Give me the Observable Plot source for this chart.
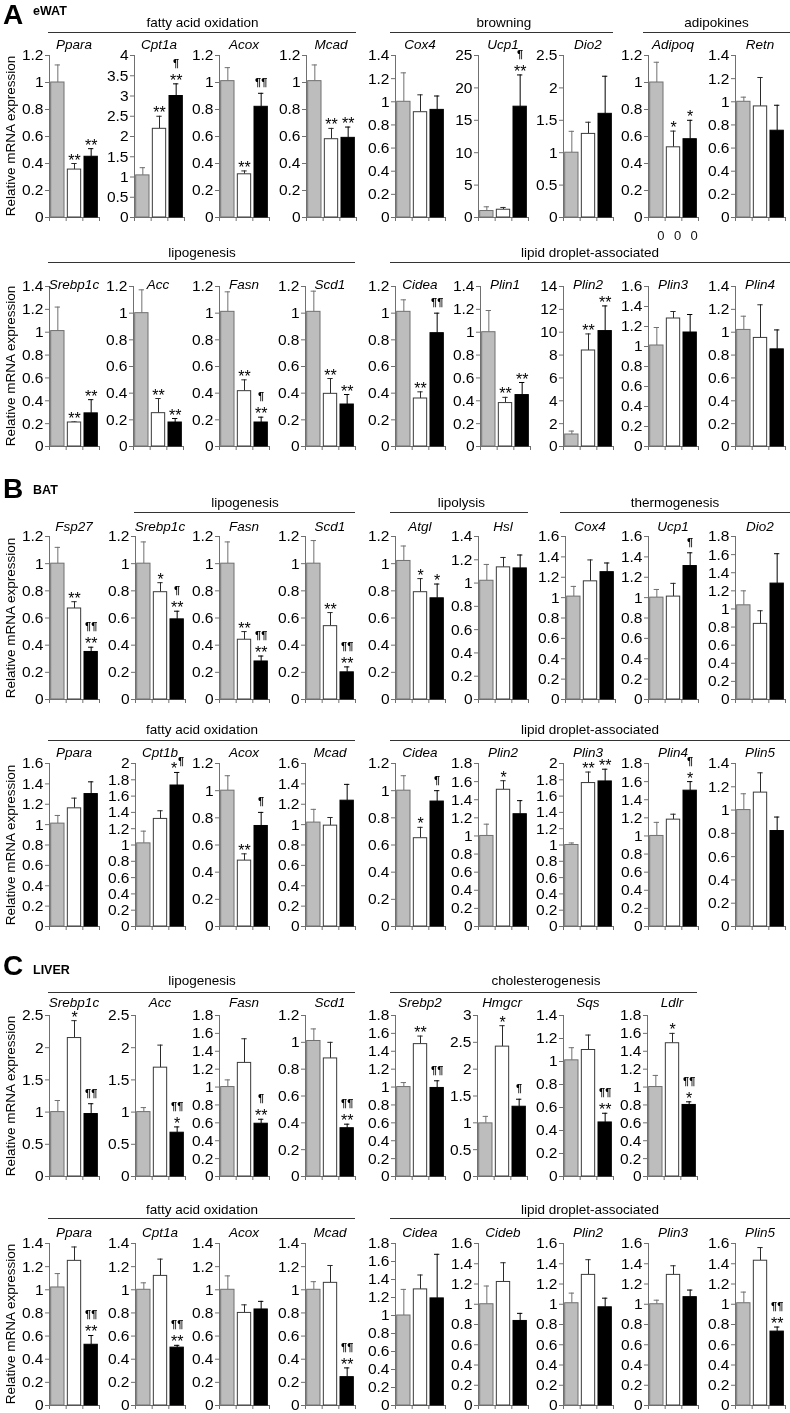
<!DOCTYPE html>
<html><head><meta charset="utf-8">
<script src="https://cdn.jsdelivr.net/npm/d3@7"></script>
<script src="https://cdn.jsdelivr.net/npm/@observablehq/plot@0.6"></script>
<style>
body{margin:0;background:#fff;}
#fig{position:relative;width:790px;height:1413px;overflow:hidden;background:#fff;font-family:"Liberation Sans",Arial,sans-serif;color:#000;}
.lbl{position:absolute;white-space:nowrap;text-align:center;}
.hline{position:absolute;height:0;border-top:1px solid #333;}
#fig svg{font-family:"Liberation Sans",Arial,sans-serif !important;will-change:transform;}
</style></head><body><div id="fig"></div>
<script>
// ---------------- DATA ----------------
// groups: gray (control), white, black ; values = mean, sem = error above mean
const A1_genes = ["Ppara","Cpt1a","Acox","Mcad","Cox4","Ucp1","Dio2","Adipoq","Retn"];
const A1_max  = [1.2,4,1.2,1.2,1.4,25,2.5,1.2,1.4];
const A1_step = [0.2,0.5,0.2,0.2,0.2,5,0.5,0.2,0.2];
const A1_mean = [[1.00,0.355,0.45],[1.04,2.19,3.00],[1.01,0.32,0.82],[1.01,0.58,0.59],[1.00,0.91,0.93],[1.0,1.2,17.1],[1.00,1.29,1.60],[1.00,0.52,0.58],[1.00,0.96,0.75]];
const A1_sem  = [[0.13,0.045,0.06],[0.19,0.31,0.30],[0.10,0.025,0.10],[0.12,0.08,0.08],[0.25,0.15,0.12],[0.65,0.35,4.9],[0.33,0.18,0.58],[0.15,0.12,0.14],[0.04,0.25,0.22]];
const A1_star = [["","**","**"],["","**","**"],["","**",""],["","**","**"],["","",""],["","","**"],["","",""],["","*","*"],["","",""]];
const A1_para = [["","",""],["","","¶"],["","","¶¶"],["","",""],["","",""],["","","¶"],["","",""],["","",""],["","",""]];
const A1_below = [null,null,null,null,null,null,null,["0","0","0"],null];
const A1_groups = [["fatty acid oxidation",0,3],["browning",4,6],["adipokines",7,8]];

const A2_genes = ["Srebp1c","Acc","Fasn","Scd1","Cidea","Plin1","Plin2","Plin3","Plin4"];
const A2_max  = [1.4,1.2,1.2,1.2,1.2,1.4,14,1.6,1.4];
const A2_step = [0.2,0.2,0.2,0.2,0.2,0.2,2,0.2,0.2];
const A2_mean = [[1.01,0.21,0.29],[1.0,0.25,0.18],[1.01,0.415,0.18],[1.01,0.395,0.315],[1.01,0.36,0.85],[1.0,0.38,0.45],[1.05,8.4,10.1],[1.01,1.28,1.14],[1.02,0.95,0.85]];
const A2_sem  = [[0.21,0.005,0.12],[0.175,0.11,0.03],[0.15,0.085,0.04],[0.155,0.115,0.075],[0.09,0.05,0.15],[0.19,0.05,0.11],[0.3,1.45,2.2],[0.18,0.07,0.18],[0.12,0.29,0.17]];
const A2_star = [["","**","**"],["","**","**"],["","**","**"],["","**","**"],["","**",""],["","**","**"],["","**","**"],["","",""],["","",""]];
const A2_para = [["","",""],["","",""],["","","¶"],["","",""],["","","¶¶"],["","",""],["","",""],["","",""],["","",""]];
const A2_groups = [["lipogenesis",0,3],["lipid droplet-associated",4,8]];

const B1_genes = ["Fsp27","Srebp1c","Fasn","Scd1","Atgl","Hsl","Cox4","Ucp1","Dio2"];
const B1_max  = [1.2,1.2,1.2,1.2,1.2,1.4,1.6,1.6,1.8];
const B1_step = [0.2,0.2,0.2,0.2,0.2,0.2,0.2,0.2,0.2];
const B1_mean = [[1.0,0.67,0.35],[1.0,0.79,0.59],[1.0,0.44,0.28],[1.0,0.54,0.20],[1.02,0.79,0.745],[1.02,1.135,1.126],[1.01,1.16,1.25],[1.0,1.01,1.31],[1.04,0.835,1.28]];
const B1_sem  = [[0.12,0.05,0.035],[0.16,0.07,0.06],[0.16,0.06,0.04],[0.17,0.10,0.04],[0.11,0.10,0.105],[0.14,0.085,0.115],[0.10,0.21,0.09],[0.08,0.13,0.13],[0.16,0.145,0.33]];
const B1_star = [["","**","**"],["","*","**"],["","**","**"],["","**","**"],["","*","*"],["","",""],["","",""],["","",""],["","",""]];
const B1_para = [["","","¶¶"],["","","¶"],["","","¶¶"],["","","¶¶"],["","",""],["","",""],["","",""],["","","¶"],["","",""]];
const B1_groups = [["lipogenesis",1,3],["lipolysis",4,5],["thermogenesis",6,8]];

const B2_genes = ["Ppara","Cpt1b","Acox","Mcad","Cidea","Plin2","Plin3","Plin4","Plin5"];
const B2_max  = [1.6,2,1.2,1.6,1.2,1.8,2,1.8,1.4];
const B2_step = [0.2,0.2,0.2,0.2,0.2,0.2,0.2,0.2,0.2];
const B2_mean = [[1.01,1.16,1.30],[1.02,1.32,1.73],[1.0,0.485,0.74],[1.02,0.99,1.235],[1.0,0.65,0.92],[1.0,1.51,1.24],[1.0,1.76,1.78],[1.0,1.18,1.50],[1.0,1.15,0.82]];
const B2_sem  = [[0.08,0.10,0.12],[0.15,0.10,0.16],[0.11,0.05,0.10],[0.13,0.08,0.16],[0.11,0.08,0.08],[0.13,0.10,0.15],[0.025,0.135,0.15],[0.15,0.06,0.10],[0.14,0.17,0.12]];
const B2_star = [["","",""],["","","*¶"],["","**",""],["","",""],["","*",""],["","*",""],["","**","**"],["","","*"],["","",""]];
const B2_para = [["","",""],["","",""],["","","¶"],["","",""],["","","¶"],["","",""],["","",""],["","","¶"],["","",""]];
const B2_groups = [["fatty acid oxidation",0,3],["lipid droplet-associated",4,8]];

const C1_genes = ["Srebp1c","Acc","Fasn","Scd1","Srebp2","Hmgcr","Sqs","Ldlr"];
const C1_max  = [2.5,2.5,1.8,1.2,1.8,3,1.4,1.8];
const C1_step = [0.5,0.5,0.2,0.2,0.2,0.5,0.2,0.2];
const C1_mean = [[1.0,2.15,0.97],[1.0,1.69,0.68],[1.0,1.27,0.59],[1.01,0.88,0.36],[1.0,1.48,0.99],[0.99,2.42,1.30],[1.01,1.10,0.47],[1.0,1.49,0.80]];
const C1_sem  = [[0.18,0.27,0.16],[0.07,0.35,0.09],[0.08,0.27,0.05],[0.09,0.12,0.03],[0.05,0.09,0.08],[0.13,0.39,0.14],[0.11,0.13,0.08],[0.13,0.11,0.035]];
const C1_star = [["","*",""],["","","*"],["","","**"],["","","**"],["","**",""],["","*",""],["","","**"],["","*","*"]];
const C1_para = [["","","¶¶"],["","","¶¶"],["","","¶"],["","","¶¶"],["","","¶¶"],["","","¶"],["","","¶¶"],["","","¶¶"]];
const C1_groups = [["lipogenesis",0,3],["cholesterogenesis",4,7]];

const C2_genes = ["Ppara","Cpt1a","Acox","Mcad","Cidea","Cideb","Plin2","Plin3","Plin5"];
const C2_max  = [1.4,1.4,1.4,1.4,1.8,1.6,1.6,1.6,1.6];
const C2_step = [0.2,0.2,0.2,0.2,0.2,0.2,0.2,0.2,0.2];
const C2_mean = [[1.02,1.25,0.525],[1.0,1.12,0.50],[1.0,0.80,0.83],[1.0,1.06,0.245],[1.0,1.29,1.19],[1.0,1.22,0.835],[1.01,1.29,0.97],[1.0,1.29,1.07],[1.01,1.43,0.73]];
const C2_sem  = [[0.12,0.12,0.08],[0.06,0.145,0.02],[0.12,0.07,0.07],[0.07,0.15,0.08],[0.29,0.16,0.49],[0.18,0.19,0.075],[0.10,0.15,0.09],[0.04,0.09,0.07],[0.11,0.13,0.045]];
const C2_star = [["","","**"],["","","**"],["","",""],["","","**"],["","",""],["","",""],["","",""],["","",""],["","","**"]];
const C2_para = [["","","¶¶"],["","","¶¶"],["","",""],["","","¶¶"],["","",""],["","",""],["","",""],["","",""],["","","¶¶"]];
const C2_groups = [["fatty acid oxidation",0,3],["lipid droplet-associated",4,8]];

const sections = [["A","eWAT"],["B","BAT"],["C","LIVER"]];
const yTitle = "Relative mRNA expression";

// ---------------- LAYOUT ----------------
const rows = [
 {genes:A1_genes,max:A1_max,step:A1_step,mean:A1_mean,sem:A1_sem,star:A1_star,para:A1_para,below:A1_below,groups:A1_groups,
  top:55,bottom:217,titleY:45,groupY:23,lineY:32,axes:[49,134,219,306,395,478,563,648,735]},
 {genes:A2_genes,max:A2_max,step:A2_step,mean:A2_mean,sem:A2_sem,star:A2_star,para:A2_para,groups:A2_groups,
  top:286,bottom:446,titleY:285,groupY:253,lineY:262,axes:[49,133,219,305,395,480,563,648,735]},
 {genes:B1_genes,max:B1_max,step:B1_step,mean:B1_mean,sem:B1_sem,star:B1_star,para:B1_para,groups:B1_groups,
  top:536,bottom:699,titleY:527,groupY:503,lineY:512,axes:[49,135,219,305,395,478,565,648,735]},
 {genes:B2_genes,max:B2_max,step:B2_step,mean:B2_mean,sem:B2_sem,star:B2_star,para:B2_para,groups:B2_groups,
  top:763,bottom:926,titleY:753,groupY:730,lineY:740,axes:[49,135,219,305,395,478,563,648,735]},
 {genes:C1_genes,max:C1_max,step:C1_step,mean:C1_mean,sem:C1_sem,star:C1_star,para:C1_para,groups:C1_groups,
  top:1015,bottom:1176,titleY:1003,groupY:981,lineY:992,axes:[49,135,219,305,395,477,563,647]},
 {genes:C2_genes,max:C2_max,step:C2_step,mean:C2_mean,sem:C2_sem,star:C2_star,para:C2_para,groups:C2_groups,
  top:1243,bottom:1405,titleY:1233,groupY:1210,lineY:1218,axes:[49,135,219,305,395,478,563,648,735]}
];
const sectionPos = [{ly:15, sy:11},{ly:489, sy:490},{ly:966, sy:970}];

const fig = document.getElementById("fig");
const FONT = "Liberation Sans";
const AX = "#707070";
const ML = 40, MR = 4, MT = 45, MB = 30, PW = 50;
const fills = ["#bdbdbd","#ffffff","#000000"];
const strokes = ["#707070","#3a3a3a","#000000"];
const errC = ["#707070","#2a2a2a","#000000"];

function addLabel(text, cx, cy, css) {
  const d = document.createElement("div");
  d.className = "lbl";
  d.textContent = text;
  const lh = 20;
  d.style.lineHeight = lh + "px";
  d.style.width = "300px";
  d.style.left = (cx - 150) + "px";
  d.style.top = (cy - lh / 2) + "px";
  Object.assign(d.style, css || {});
  fig.appendChild(d);
  return d;
}
function addLine(x1, x2, y) {
  const d = document.createElement("div");
  d.className = "hline";
  d.style.left = x1 + "px";
  d.style.width = (x2 - x1) + "px";
  d.style.top = y + "px";
  fig.appendChild(d);
}

function panel(row, k) {
  const max = row.max[k], step = row.step[k];
  const data = row.mean[k].map((v, j) => ({j, v, e: v + row.sem[k][j], star: row.star[k][j], para: row.para[k][j]}));
  const ticks = d3.range(0, Math.round(max / step) + 1).map(i => +(i * step).toFixed(3));
  const h = row.bottom - row.top;
  const starPlain = data.filter(d => d.star && !d.star.includes("¶"));
  const starInline = data.filter(d => d.star && d.star.includes("¶"));
  const paraAbove = data.filter(d => d.para && d.star);
  const paraAlone = data.filter(d => d.para && !d.star);
  const T = {fontFamily: FONT, fill: "#000"};
  const P = {fontFamily: FONT, fill: "#000", fontWeight: "bold", fontSize: 11};
  const marks = [
    Plot.ruleX([0], {y1: 0, y2: max, stroke: AX}),
    Plot.ruleY([0], {x1: 0, x2: 3, stroke: AX}),
    Plot.axisY({ticks, tickSize: 4, tickPadding: 2, tickFormat: d => String(d), stroke: AX, fill: "#000", fontSize: 15.5, fontFamily: FONT, label: null}),
    Plot.axisX({ticks: [0, 1, 2, 3], tickSize: 4, tickFormat: () => "", stroke: AX, label: null}),
    Plot.ruleX(data, {x: d => d.j + 0.5, y1: "v", y2: "e", stroke: d => errC[d.j]}),
    Plot.ruleY(data, {y: "e", x1: d => d.j + 0.34, x2: d => d.j + 0.66, stroke: d => errC[d.j]}),
    Plot.rect(data, {x1: d => d.j + 0.1, x2: d => d.j + 0.9, y1: 0, y2: "v", fill: d => fills[d.j], stroke: d => strokes[d.j], strokeWidth: 1}),
    Plot.text(starPlain, {...T, x: d => d.j + 0.5, y: "e", text: "star", lineAnchor: "bottom", dy: 2, fontSize: 16}),
    Plot.text(starInline, {...T, x: d => d.j + 0.5, y: "e", text: d => d.star.replace(/¶/g, ""), lineAnchor: "bottom", dy: 2, dx: -3, fontSize: 16}),
    Plot.text(starInline, {...P, x: d => d.j + 0.5, y: "e", text: d => d.star.replace(/\*/g, ""), lineAnchor: "bottom", dy: -7, dx: 4}),
    Plot.text(paraAbove, {...P, x: d => d.j + 0.5, y: "e", text: "para", lineAnchor: "bottom", dy: -17}),
    Plot.text(paraAlone, {...P, x: d => d.j + 0.5, y: "e", text: "para", lineAnchor: "bottom", dy: -7})
  ];
  if (row.below && row.below[k]) {
    const bl = row.below[k].map((t, j) => ({j, t}));
    marks.push(Plot.text(bl, {fontFamily: FONT, fill: "#111", x: d => d.j + 0.5, y: () => 0, text: "t", dy: 18, dx: 4, fontSize: 13}));
  }
  const svg = Plot.plot({
    width: ML + PW + MR,
    height: MT + h + MB,
    marginLeft: ML, marginRight: MR, marginTop: MT, marginBottom: MB,
    x: {domain: [0, 3]},
    y: {domain: [0, max]},
    style: "font-family: 'Liberation Sans', Arial, sans-serif; font-size: 15.5px; background: transparent; overflow: visible; color: #000;",
    marks
  });
  svg.style.position = "absolute";
  svg.style.left = (row.axes[k] - ML) + "px";
  svg.style.top = (row.top - MT) + "px";
  svg.style.maxWidth = "none";
  svg.style.background = "transparent";
  svg.style.overflow = "visible";
  fig.appendChild(svg);
  addLabel(row.genes[k], row.axes[k] + PW / 2, row.titleY, {fontStyle: "italic", fontSize: "13.5px"});
}

rows.forEach((row, r) => {
  row.genes.forEach((g, k) => panel(row, k));
  row.groups.forEach(([name, a, b]) => {
    const xa = row.axes[a], xb = row.axes[b] + PW;
    const x1 = xa > 300 ? xa - 5 : xa - 1;
    const x2 = xb > 760 ? 790 : xb;
    addLine(x1, x2, row.lineY);
    addLabel(name, (xa + xb) / 2, row.groupY, {fontSize: "13.5px"});
  });
  const mid = (row.top + row.bottom) / 2;
  const t = addLabel(yTitle, 11, mid, {fontSize: "13.5px"});
  t.style.transform = "rotate(-90deg)";
  t.style.transformOrigin = "center center";
});

sections.forEach(([letter, tissue], s) => {
  const p = sectionPos[s];
  const L = addLabel(letter, 0, p.ly, {fontWeight: "bold", fontSize: "28px", textAlign: "left"});
  L.style.left = "3px"; L.style.lineHeight = "30px"; L.style.top = (p.ly - 15) + "px";
  const Tt = addLabel(tissue, 0, p.sy, {fontWeight: "bold", fontSize: "12.5px", textAlign: "left"});
  Tt.style.left = "33px";
});
</script></body></html>
